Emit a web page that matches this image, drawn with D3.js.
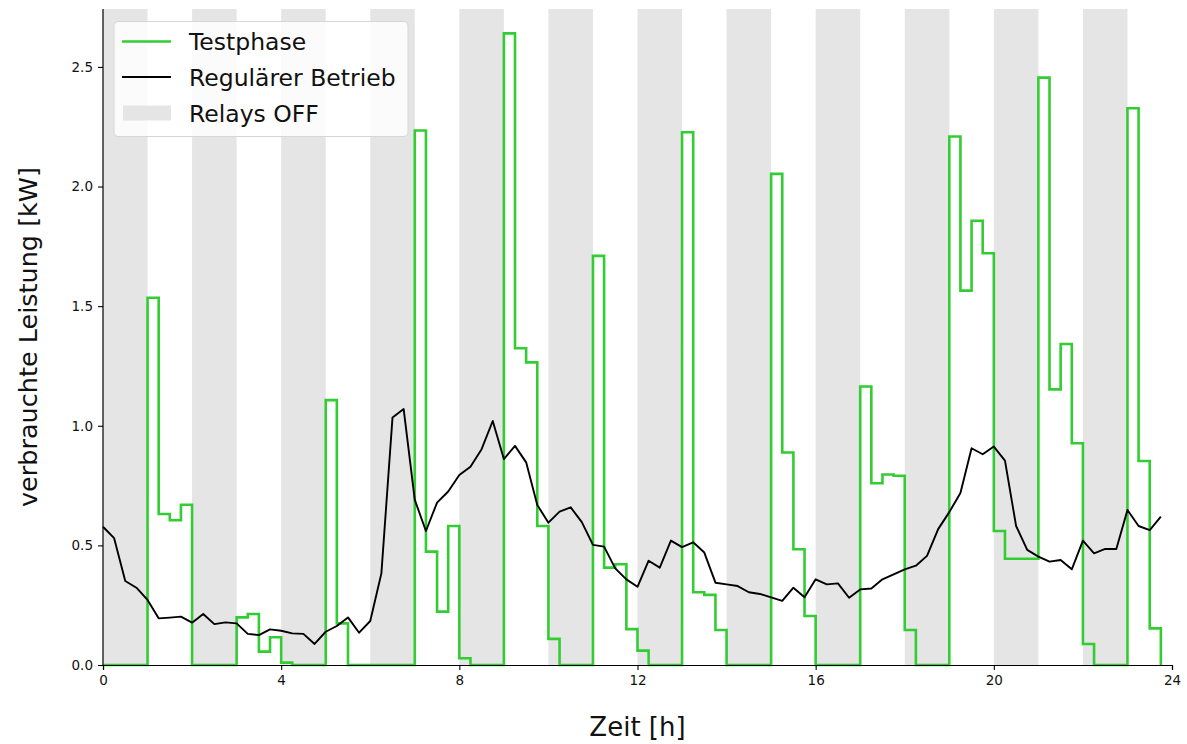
<!DOCTYPE html>
<html>
<head>
<meta charset="utf-8">
<script src="https://cdn.jsdelivr.net/npm/d3@7"></script>
<style>
  html, body { margin: 0; padding: 0; background: #fff; }
  svg { display: block; font-family: "DejaVu Sans", sans-serif; }
</style>
</head>
<body>
<svg id="chart" width="1187" height="744"></svg>
<script>
// ---- Data ----
// 15-minute time grid (hours)
const hours = d3.range(0, 24, 0.25);

// Testphase power [kW], one value per 15-minute interval (step)
const testphase = [
  0, 0, 0, 0,
  1.535, 0.631, 0.605, 0.670,
  0, 0, 0, 0,
  0.199, 0.213, 0.056, 0.116,
  0.010, 0, 0, 0,
  1.107, 0.174, 0, 0,
  0, 0, 0, 0,
  2.234, 0.474, 0.223, 0.581,
  0.028, 0, 0, 0,
  2.640, 1.324, 1.265, 0.581,
  0.109, 0, 0, 0,
  1.710, 0.407, 0.421, 0.150,
  0.060, 0, 0, 0,
  2.227, 0.304, 0.293, 0.146,
  0, 0, 0, 0,
  2.053, 0.888, 0.484, 0.205,
  0, 0, 0, 0,
  1.164, 0.760, 0.796, 0.791,
  0.146, 0, 0, 0,
  2.209, 1.565, 1.857, 1.721,
  0.560, 0.444, 0.444, 0.444,
  2.455, 1.152, 1.342, 0.927,
  0.088, 0, 0, 0,
  2.327, 0.853, 0.153, 0
];

// Regular operation power [kW]
const regular = [
  0.578, 0.530, 0.351, 0.323, 0.272, 0.195, 0.198, 0.202,
  0.177, 0.213, 0.171, 0.178, 0.174, 0.130, 0.125, 0.149,
  0.143, 0.132, 0.130, 0.088, 0.139, 0.163, 0.199, 0.135,
  0.184, 0.383, 1.035, 1.070, 0.690, 0.560, 0.679, 0.725,
  0.794, 0.829, 0.902, 1.020, 0.861, 0.916, 0.847, 0.669,
  0.595, 0.641, 0.659, 0.597, 0.502, 0.495, 0.404, 0.358,
  0.327, 0.436, 0.407, 0.520, 0.493, 0.513, 0.470, 0.344,
  0.337, 0.330, 0.304, 0.297, 0.283, 0.268, 0.323, 0.283,
  0.358, 0.337, 0.341, 0.281, 0.316, 0.320, 0.358, 0.379,
  0.400, 0.415, 0.456, 0.568, 0.639, 0.719, 0.906, 0.881,
  0.913, 0.854, 0.581, 0.481, 0.453, 0.432, 0.439, 0.400,
  0.520, 0.467, 0.485, 0.485, 0.648, 0.581, 0.564, 0.620
];

// Relays OFF periods: start hour, each one hour long
const relaysOffStart = [0, 2, 4, 6, 8, 10, 12, 14, 16, 18, 20, 22];
const relaysOffLength = 1;

const xTicks = [0, 4, 8, 12, 16, 20, 24];
const yTicks = [0.0, 0.5, 1.0, 1.5, 2.0, 2.5];

const legendLabels = ["Testphase", "Regulärer Betrieb", "Relays OFF"];
const xLabel = "Zeit [h]";
const yLabel = "verbrauchte Leistung [kW]";

// ---- Layout ----
const svg = d3.select("#chart");
const mLeft = 103, mRight = 1172, mTop = 9, mBottom = 665;

const x = d3.scaleLinear().domain([0, 24]).range([mLeft, mRight]);
const y = d3.scaleLinear().domain([0, 2.742]).range([mBottom, mTop]);

const GREEN = "#32cd32";
const BAND = "#e5e5e5";

// Relays OFF bands
svg.append("g").selectAll("rect")
  .data(relaysOffStart)
  .join("rect")
  .attr("x", d => x(d))
  .attr("width", d => x(d + relaysOffLength) - x(d))
  .attr("y", mTop)
  .attr("height", mBottom - mTop)
  .attr("fill", BAND);

// Testphase step line
const green = hours.map((h, i) => [h, testphase[i]]);
svg.append("path")
  .datum(green)
  .attr("fill", "none")
  .attr("stroke", GREEN)
  .attr("stroke-width", 2.6)
  .attr("stroke-linejoin", "miter")
  .attr("d", d3.line().x(d => x(d[0])).y(d => y(d[1])).curve(d3.curveStepAfter));

// Regular line
const black = hours.map((h, i) => [h, regular[i]]);
svg.append("path")
  .datum(black)
  .attr("fill", "none")
  .attr("stroke", "#000")
  .attr("stroke-width", 1.9)
  .attr("stroke-linejoin", "round")
  .attr("d", d3.line().x(d => x(d[0])).y(d => y(d[1])));

// Axes
const xAxis = svg.append("g")
  .attr("transform", `translate(0,${mBottom})`)
  .call(d3.axisBottom(x).tickValues(xTicks).tickFormat(d3.format("d")).tickSizeOuter(0).tickSize(5).tickPadding(5));
const yAxis = svg.append("g")
  .attr("transform", `translate(${mLeft},0)`)
  .call(d3.axisLeft(y).tickValues(yTicks).tickFormat(d3.format(".1f")).tickSizeOuter(0).tickSize(5).tickPadding(5));

[xAxis, yAxis].forEach(g => {
  g.select(".domain").attr("stroke", "#000").attr("stroke-width", 1.2);
  g.selectAll(".tick line").attr("stroke", "#000").attr("stroke-width", 1.1);
  g.selectAll(".tick text")
    .attr("font-family", "DejaVu Sans, sans-serif")
    .attr("font-size", 13.5)
    .attr("fill", "#111");
});
yAxis.select(".domain").attr("d", `M0,${mTop}V${mBottom}`);

// Axis labels
svg.append("text")
  .attr("x", (mLeft + mRight) / 2)
  .attr("y", 736)
  .attr("text-anchor", "middle")
  .attr("font-size", 26)
  .attr("fill", "#111")
  .text(xLabel);

svg.append("text")
  .attr("transform", `translate(37,${(mTop + mBottom) / 2}) rotate(-90)`)
  .attr("text-anchor", "middle")
  .attr("font-size", 25.5)
  .attr("fill", "#111")
  .text(yLabel);

// Legend
const lg = svg.append("g");
lg.append("rect")
  .attr("x", 114).attr("y", 21.5)
  .attr("width", 294).attr("height", 115)
  .attr("rx", 4).attr("ry", 4)
  .attr("fill", "#fff").attr("fill-opacity", 0.82)
  .attr("stroke", "#d6d6d6").attr("stroke-width", 1);

const rowY = [41.5, 77, 113];
lg.append("line")
  .attr("x1", 122).attr("x2", 171)
  .attr("y1", rowY[0]).attr("y2", rowY[0])
  .attr("stroke", GREEN).attr("stroke-width", 2.6);
lg.append("line")
  .attr("x1", 122).attr("x2", 171)
  .attr("y1", rowY[1]).attr("y2", rowY[1])
  .attr("stroke", "#000").attr("stroke-width", 1.9);
lg.append("rect")
  .attr("x", 123).attr("y", rowY[2] - 7.5)
  .attr("width", 48).attr("height", 15)
  .attr("fill", BAND);

lg.selectAll("text.leg")
  .data(legendLabels)
  .join("text")
  .attr("class", "leg")
  .attr("x", 189)
  .attr("y", (d, i) => rowY[i] + 8.5)
  .attr("font-size", 23.5)
  .attr("fill", "#111")
  .text(d => d);
</script>
</body>
</html>
